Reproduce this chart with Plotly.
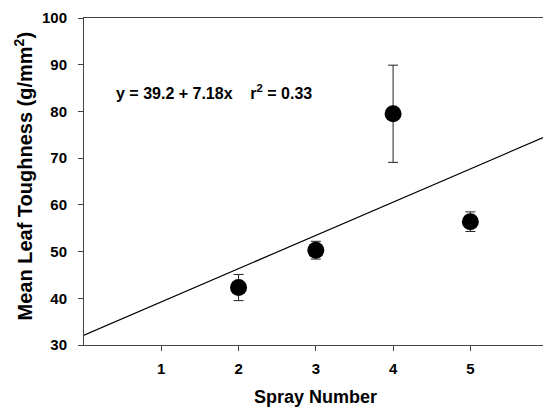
import plotly.graph_objects as go

spray = [2, 3, 4, 5]
toughness = [42.3, 50.3, 79.5, 56.4]
sem = [2.8, 1.9, 10.4, 2.1]
fit_x = [0, 5.94]
fit_y = [32.1, 74.4]
x_ticks = [1, 2, 3, 4, 5]
y_ticks = [30, 40, 50, 60, 70, 80, 90, 100]

FONT = "Arial, 'Liberation Sans', sans-serif"

fig = go.Figure()
fig.add_trace(go.Scatter(x=fit_x, y=fit_y, mode="lines",
                         line=dict(color="black", width=1.2),
                         showlegend=False, hoverinfo="skip"))
fig.add_trace(go.Scatter(x=spray, y=toughness, mode="markers",
                         marker=dict(color="black", size=17),
                         error_y=dict(type="data", array=sem, color="#222",
                                      thickness=1, width=5),
                         showlegend=False))

fig.update_layout(
    width=543, height=407,
    margin=dict(l=84, r=0, t=18, b=62),
    plot_bgcolor="white", paper_bgcolor="white",
    font=dict(family=FONT, color="black"),
    xaxis=dict(range=[0, 5.94], tickvals=x_ticks, ticks="outside", ticklen=5,
               tickwidth=1, tickcolor="#444", showline=True, linecolor="#444",
               linewidth=1, mirror=True, showgrid=False, zeroline=False,
               ticklabelstandoff=5,
               tickfont=dict(size=15, family=FONT, weight="bold")),
    yaxis=dict(range=[30, 100], tickvals=y_ticks, ticks="outside", ticklen=5,
               tickwidth=1, tickcolor="#444", showline=True, linecolor="#444",
               linewidth=1, showgrid=False, zeroline=False,
               ticklabelstandoff=8,
               tickfont=dict(size=15, family=FONT, weight="bold")),
    annotations=[
        dict(text="<b>y = 39.2 + 7.18x\u00a0\u00a0\u00a0\u00a0r<sup>2</sup> = 0.33</b>",
             x=0.39, y=84.2, xref="x", yref="y", xanchor="left", yanchor="middle",
             showarrow=False, font=dict(size=16, family=FONT)),
        dict(text="<b>Mean Leaf Toughness (g/mm<sup>2</sup>)</b>",
             x=0, y=0.5, xref="paper", yref="paper", xanchor="center", yanchor="middle",
             xshift=-61, yshift=5, textangle=-90, showarrow=False,
             font=dict(size=20, family=FONT)),
        dict(text="<b>Spray Number</b>",
             x=0.5, y=0, xref="paper", yref="paper", xanchor="center", yanchor="middle",
             xshift=2, yshift=-52, showarrow=False,
             font=dict(size=18, family=FONT)),
    ],
)

fig.write_html("out.html", config={"displayModeBar": False},
               post_script="document.body.style.margin='0';document.body.style.padding='0';")
